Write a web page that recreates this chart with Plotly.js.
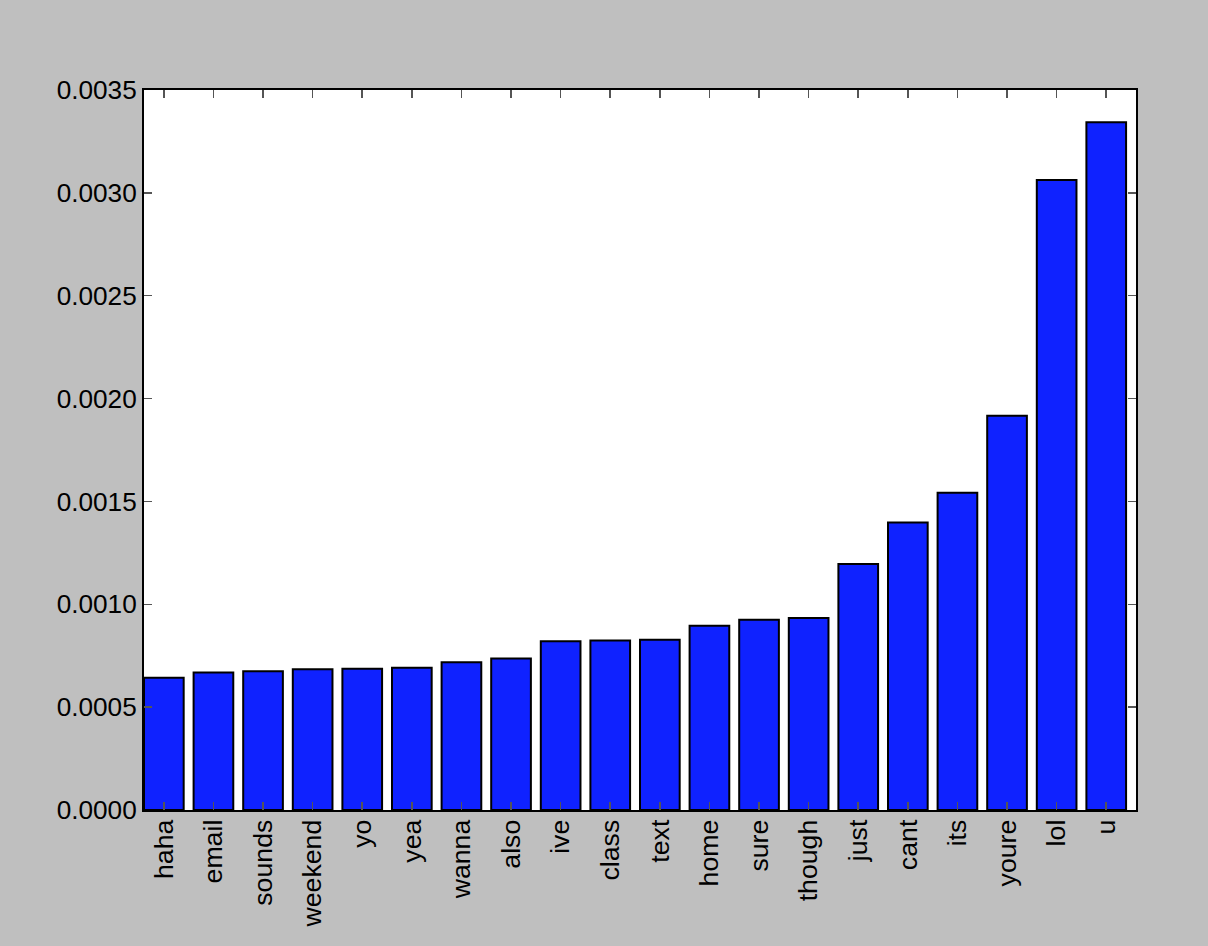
<!DOCTYPE html>
<html>
<head>
<meta charset="utf-8">
<script src="https://cdn.plot.ly/plotly-3.0.1.min.js"></script>
<style>html,body{margin:0;padding:0;background:#bfbfbf;}#chart{width:1208px;height:946px;}</style>
</head>
<body>
<div id="chart"></div>
<script>
var words = ["haha","email","sounds","weekend","yo","yea","wanna","also","ive","class","text","home","sure","though","just","cant","its","youre","lol","u"];
var values = [0.000643,0.000669,0.000674,0.000684,0.000687,0.000692,0.000718,0.000736,0.000820,0.000824,0.000828,0.000896,0.000925,0.000933,0.001196,0.001397,0.001542,0.001917,0.003062,0.003343];
var yTicks = [0,0.0005,0.001,0.0015,0.002,0.0025,0.003,0.0035];

var trace = {
  type: 'bar',
  x: words,
  y: values,
  width: 0.8,
  marker: {color: '#0f22ff', line: {color: '#000000', width: 2}},
  hoverinfo: 'x+y'
};

var layout = {
  width: 1208, height: 946,
  paper_bgcolor: '#bfbfbf',
  plot_bgcolor: '#ffffff',
  margin: {l: 144, r: 72, t: 90, b: 136},
  showlegend: false,
  font: {family: 'Liberation Sans, Arial, sans-serif', size: 26.2, color: '#000'},
  xaxis: {
    type: 'category',
    range: [-0.4, 19.6],
    ticks: 'inside', ticklen: 8, tickwidth: 1.5, tickcolor: '#555555',
    tickangle: -90,
    showline: true, linecolor: '#000', linewidth: 2, mirror: 'allticks',
    showgrid: false, zeroline: false,
    tickfont: {size: 26.7, color: '#000'},
    ticklabelstandoff: -3
  },
  yaxis: {
    range: [0, 0.0035],
    tickvals: yTicks,
    tickformat: '.4f',
    ticks: 'inside', ticklen: 8, tickwidth: 1.5, tickcolor: '#555555',
    showline: true, linecolor: '#000', linewidth: 2, mirror: 'allticks',
    showgrid: false, zeroline: false,
    tickfont: {size: 26.2, color: '#000'},
    ticklabelstandoff: 0
  }
};

Plotly.newPlot('chart', [trace], layout, {displayModeBar: false, staticPlot: true});
</script>
</body>
</html>
